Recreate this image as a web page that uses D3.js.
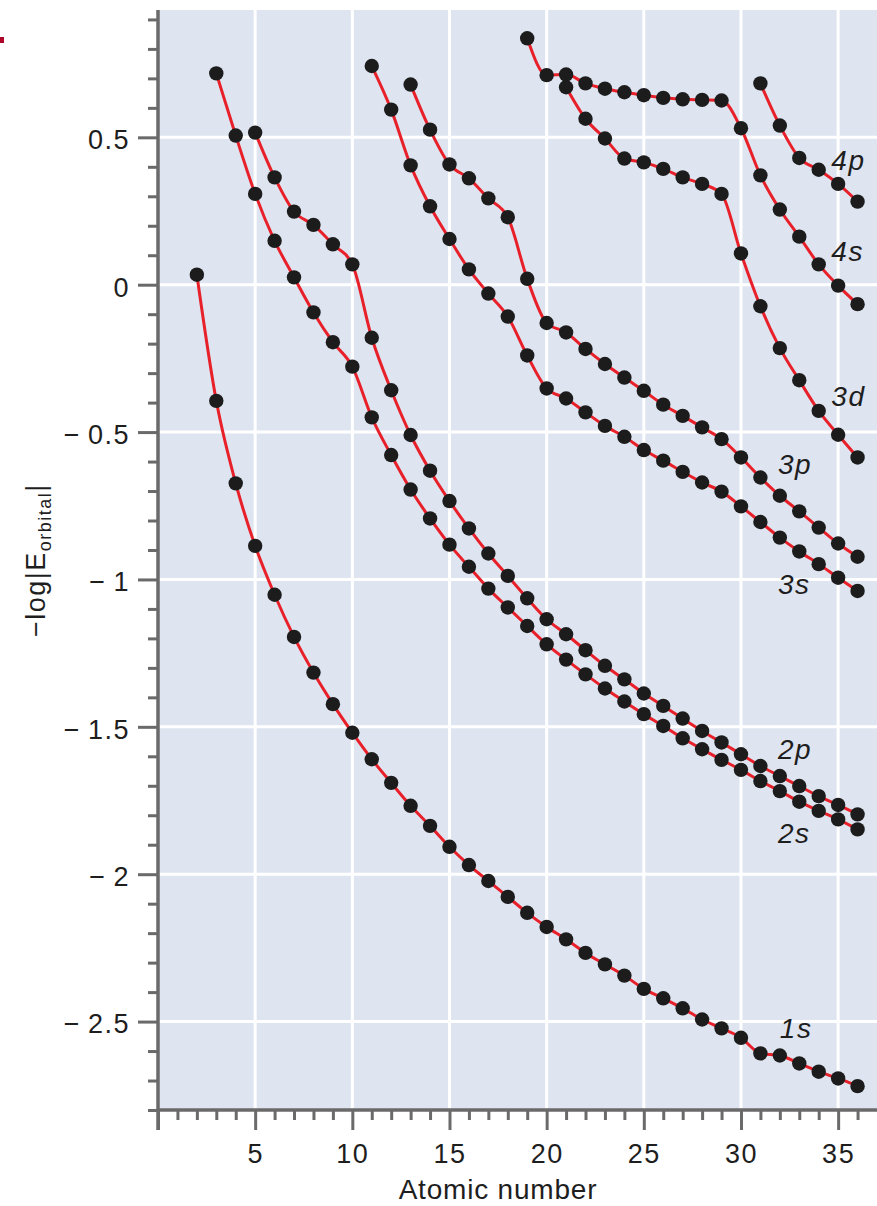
<!DOCTYPE html>
<html>
<head>
<meta charset="utf-8">
<script src="https://cdn.jsdelivr.net/npm/d3@7"></script>
<style>
  body { margin: 0; background: #fff; }
  svg { display: block; }
  text { font-family: "Liberation Sans", Arial, Helvetica, sans-serif; fill: #1e1e1e; }
</style>
</head>
<body>
<div id="chart"></div>
<script>
// -log|E_orbital| against atomic number
const orbitals = ['1s', '2s', '2p', '3s', '3p', '3d', '4s', '4p']
const firstZ = [2, 3, 5, 11, 13, 21, 19, 31]   // first element of each series

const e1s = [0.034, -0.394, -0.674, -0.886, -1.052, -1.195, -1.316, -1.423, -1.52, -1.61,
  -1.69, -1.768, -1.836, -1.907, -1.969, -2.023, -2.077, -2.131, -2.179, -2.221,
  -2.267, -2.306, -2.344, -2.389, -2.421, -2.455, -2.493, -2.523, -2.555, -2.608,
  -2.615, -2.642, -2.670, -2.693, -2.719]
const e2s = [0.717, 0.506, 0.308, 0.149, 0.025, -0.094, -0.195, -0.278, -0.450, -0.578,
  -0.695, -0.793, -0.882, -0.957, -1.031, -1.095, -1.158, -1.220, -1.272, -1.322,
  -1.370, -1.414, -1.457, -1.497, -1.539, -1.576, -1.612, -1.646, -1.684, -1.718,
  -1.754, -1.785, -1.814, -1.848]
const e2p = [0.516, 0.364, 0.248, 0.203, 0.137, 0.069, -0.180, -0.358, -0.510, -0.631,
  -0.734, -0.827, -0.912, -0.988, -1.064, -1.135, -1.186, -1.240, -1.293, -1.339,
  -1.387, -1.429, -1.472, -1.514, -1.553, -1.593, -1.633, -1.667, -1.701, -1.735,
  -1.765, -1.797]
const e3s = [0.742, 0.594, 0.405, 0.266, 0.155, 0.052, -0.030, -0.108, -0.240, -0.352,
  -0.386, -0.433, -0.479, -0.516, -0.561, -0.597, -0.635, -0.671, -0.702, -0.752,
  -0.805, -0.858, -0.905, -0.948, -0.994, -1.039]
const e3p = [0.679, 0.526, 0.408, 0.361, 0.293, 0.229, 0.020, -0.130, -0.162, -0.218,
  -0.269, -0.315, -0.360, -0.407, -0.445, -0.484, -0.524, -0.586, -0.654, -0.716,
  -0.769, -0.824, -0.878, -0.923]
const e3d = [0.670, 0.563, 0.496, 0.428, 0.415, 0.393, 0.364, 0.342, 0.308, 0.106,
  -0.073, -0.215, -0.324, -0.428, -0.509, -0.586]
const e4s = [0.836, 0.711, 0.713, 0.683, 0.665, 0.653, 0.643, 0.634, 0.629, 0.627,
  0.625, 0.531, 0.371, 0.255, 0.163, 0.069, -0.003, -0.066]
const e4p = [0.683, 0.540, 0.430, 0.390, 0.342, 0.282]

// curve labels: left edge (atomic number) and baseline (energy)
const labelZ = [32.0, 31.9, 31.9, 31.9, 31.9, 34.65, 34.65, 34.65]
const labelE = [-2.557, -1.893, -1.610, -1.050, -0.643, -0.413, 0.081, 0.389]

const xMajor = [0, 5, 10, 15, 20, 25, 30, 35]
const yMajor = [0.5, 0, -0.5, -1, -1.5, -2, -2.5]

const width = 877
const height = 1206
const plot = {left: 158, right: 877, top: 10, bottom: 1110}

const axisColor = '#6a6a6a'
const lineColor = '#e8202a'
const dotColor = '#1c1c1c'
const bgColor = '#dee5f1'

const energies = [e1s, e2s, e2p, e3s, e3p, e3d, e4s, e4p]
const series = orbitals.map((name, i) => ({
  name: name,
  values: energies[i].map((e, j) => ({z: firstZ[i] + j, e: e}))
}))

const svg = d3.select('#chart')
  .append('svg')
  .attr('width', width)
  .attr('height', height)

const xs = d3.scaleLinear().domain([0, 37]).range([plot.left, plot.right])
const ys = d3.scaleLinear().domain([-2.8, 0.932]).range([plot.bottom, plot.top])

// stray red mark at the page corner
svg.append('rect')
  .attr('x', 0).attr('y', 37).attr('width', 4).attr('height', 6)
  .attr('fill', '#b0052b')

// background + white grid
svg.append('rect')
  .attr('x', plot.left).attr('y', plot.top)
  .attr('width', plot.right - plot.left).attr('height', plot.bottom - plot.top)
  .attr('fill', bgColor)

let grid = svg.append('g').attr('stroke', '#fff').attr('stroke-width', 3)
grid.selectAll('.gx')
  .data(xMajor.filter(d => d > 0))
  .enter().append('line')
  .attr('x1', d => xs(d)).attr('x2', d => xs(d))
  .attr('y1', plot.top).attr('y2', plot.bottom)
grid.selectAll('.gy')
  .data(yMajor)
  .enter().append('line')
  .attr('y1', d => ys(d)).attr('y2', d => ys(d))
  .attr('x1', plot.left).attr('x2', plot.right)

// axes
function styleAxis (g) {
  g.selectAll('.domain').remove()
  g.selectAll('.tick line').attr('stroke', axisColor).attr('stroke-width', 3)
  g.selectAll('.tick text')
    .attr('fill', '#1e1e1e')
    .style('font-size', '27px')
    .style('letter-spacing', '1.5px')
}

const fmt = d3.format('~g')
const yMinor = d3.range(-28, 10).map(d => d / 10).filter(d => !yMajor.includes(d))
const xMinor = d3.range(1, 37).filter(d => d % 5 !== 0)

svg.append('g')
  .attr('transform', `translate(${plot.left},0)`)
  .call(d3.axisLeft(ys).tickValues(yMinor).tickSize(10).tickFormat(''))
  .call(styleAxis)
svg.append('g')
  .attr('transform', `translate(${plot.left},0)`)
  .call(d3.axisLeft(ys).tickValues(yMajor).tickSize(20).tickPadding(8)
    .tickFormat(d => fmt(d).replace('\u2212', '\u2212\u2009')))
  .call(styleAxis)
  .call(g => g.selectAll('.tick text').attr('dy', '0.42em'))

svg.append('g')
  .attr('transform', `translate(0,${plot.bottom})`)
  .call(d3.axisBottom(xs).tickValues(xMinor).tickSize(10).tickFormat(''))
  .call(styleAxis)
svg.append('g')
  .attr('transform', `translate(0,${plot.bottom})`)
  .call(d3.axisBottom(xs).tickValues(xMajor).tickSize(20).tickPadding(14)
    .tickFormat(d => d === 0 ? '' : d))
  .call(styleAxis)

// axis lines
svg.append('line')
  .attr('x1', plot.left).attr('x2', plot.left)
  .attr('y1', plot.top).attr('y2', plot.bottom + 20)
  .attr('stroke', axisColor).attr('stroke-width', 3.5)
svg.append('line')
  .attr('x1', plot.left).attr('x2', plot.right)
  .attr('y1', plot.bottom).attr('y2', plot.bottom)
  .attr('stroke', axisColor).attr('stroke-width', 3.5)

// axis titles
svg.append('text')
  .attr('x', 498).attr('y', 1199)
  .attr('text-anchor', 'middle')
  .style('font-size', '28px')
  .style('letter-spacing', '0.8px')
  .text('Atomic number')

let ylab = svg.append('text')
  .attr('transform', 'translate(45,637) rotate(-90)')
  .style('font-size', '27px')
  .style('letter-spacing', '1.5px')
ylab.append('tspan').text('\u2212log|E')
ylab.append('tspan').attr('dy', 6).style('font-size', '18px').text('orbital')
ylab.append('tspan').attr('dy', -6).text('|')

// curves and points
const line = d3.line()
  .x(d => xs(d.z))
  .y(d => ys(d.e))
  .curve(d3.curveMonotoneX)

svg.append('g').selectAll('path')
  .data(series)
  .enter().append('path')
  .attr('d', d => line(d.values))
  .attr('fill', 'none')
  .attr('stroke', lineColor)
  .attr('stroke-width', 3)
  .attr('stroke-linejoin', 'round')

svg.append('g').selectAll('circle')
  .data(series.flatMap(s => s.values))
  .enter().append('circle')
  .attr('cx', d => xs(d.z))
  .attr('cy', d => ys(d.e))
  .attr('r', 7.2)
  .attr('fill', dotColor)

// curve labels
svg.append('g').selectAll('text')
  .data(orbitals)
  .enter().append('text')
  .attr('x', (d, i) => xs(labelZ[i]))
  .attr('y', (d, i) => ys(labelE[i]))
  .style('font-size', '28px')
  .style('font-style', 'italic')
  .style('letter-spacing', '1.5px')
  .text(d => d)
</script>
</body>
</html>
